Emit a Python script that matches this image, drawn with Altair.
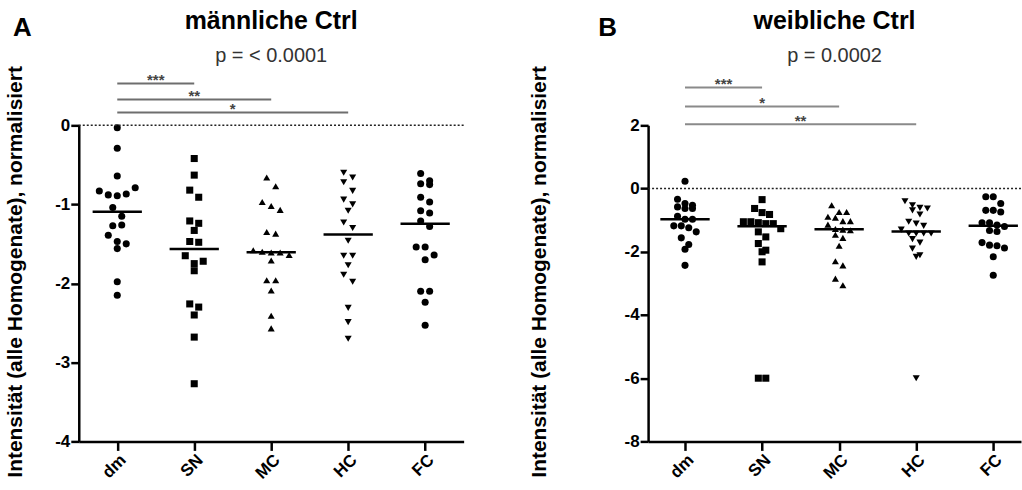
import altair as alt
import pandas as pd

FONT = "Liberation Sans"

groups = ["dm", "SN", "MC", "HC", "FC"]
shapes = ["circle", "square", "triangle-up", "triangle-down", "circle"]

# Panel A: männliche Ctrl
male_dm = [-0.03, -0.29, -0.64, -0.83, -0.88, -0.89, -0.87, -0.79, -1.04, -1.15,
           -1.27, -1.26, -1.39, -1.47, -1.50, -1.56, -1.98, -2.15]
male_SN = [-0.42, -0.63, -0.82, -0.91, -1.21, -1.24, -1.33, -1.47, -1.48, -1.65,
           -1.75, -1.72, -1.84, -2.26, -2.30, -2.40, -2.68, -3.27]
male_MC = [-0.66, -0.77, -0.97, -1.02, -1.07, -1.35, -1.37, -1.58, -1.60, -1.61,
           -1.61, -1.64, -1.71, -1.96, -1.96, -2.09, -2.41, -2.57]
male_HC = [-0.60, -0.66, -0.72, -0.83, -0.94, -1.00, -1.08, -1.23, -1.30, -1.46,
           -1.65, -1.65, -1.77, -1.89, -1.98, -2.31, -2.49, -2.70]
male_FC = [-0.61, -0.74, -0.75, -0.70, -0.91, -0.97, -1.08, -1.11, -1.21, -1.28,
           -1.54, -1.54, -1.64, -1.70, -2.10, -2.10, -2.24, -2.53]

# Panel B: weibliche Ctrl
female_dm = [0.23, -0.34, -0.47, -0.53, -0.58, -0.63, -0.63, -0.88, -0.97, -0.97,
             -1.18, -1.18, -1.24, -1.37, -1.56, -1.77, -1.92, -2.43]
female_SN = [-0.35, -0.63, -0.76, -0.82, -1.05, -1.05, -1.08, -1.11, -1.11, -1.27,
             -1.37, -1.53, -1.74, -1.95, -2.00, -2.32, -6.0, -6.0]
female_MC = [-0.53, -0.74, -0.74, -0.89, -0.92, -1.03, -1.03, -1.14, -1.28, -1.30,
             -1.32, -1.46, -1.56, -1.81, -2.30, -2.43, -2.85, -3.06]
female_HC = [-0.40, -0.53, -0.61, -0.63, -0.69, -0.82, -1.05, -1.11, -1.18, -1.30,
             -1.42, -1.42, -1.42, -1.42, -1.60, -1.71, -1.90, -2.11, -2.16, -6.0]
female_FC = [-0.26, -0.26, -0.47, -0.69, -0.69, -0.74, -1.08, -1.08, -1.15, -1.20,
             -1.33, -1.36, -1.71, -1.79, -1.81, -1.88, -2.16, -2.74]

# significance comparisons (dm vs. group index)
male_sig_to = [1, 2, 3]
male_sig_stars = ["***", "**", "*"]
female_sig_to = [1, 2, 3]
female_sig_stars = ["***", "*", "**"]

male_yticks = [0, -1, -2, -3, -4]
female_yticks = [2, 0, -2, -4, -6, -8]

YTITLE = "Intensität (alle Homogenate), normalisiert"
H = 317


def row_offsets(vals, ppu, d):
    n = len(vals)
    order = sorted(range(n), key=lambda i: -vals[i])
    offs = [0.0] * n
    rows, cur, start = [], [], None
    for i in order:
        ypx = -vals[i] * ppu
        if cur and ypx - start < d:
            cur.append(i)
        else:
            if cur:
                rows.append(cur)
            cur, start = [i], ypx
    if cur:
        rows.append(cur)
    for r in rows:
        r = sorted(r)
        m = len(r)
        for j, i in enumerate(r):
            offs[i] = (j - (m - 1) / 2) * d
    return offs


def panel(series, ymin, ymax, yticks, title, ptext, letter, sig_to, sig_stars,
          sig_px, W, xdom, d, titleX, bar_color, letter_x, title_offset):
    ppu = H / (ymax - ymin)
    step = W / (xdom[1] - xdom[0])
    recs = []
    for gi, vals in enumerate(series):
        for v, o in zip(vals, row_offsets(vals, ppu, d)):
            recs.append({"Gruppe": groups[gi], "gi": gi, "Wert": v,
                         "xpos": gi + o / step})
    df = pd.DataFrame(recs)

    xs = alt.Scale(domain=xdom, nice=False, zero=False)
    ys = alt.Scale(domain=[ymin, ymax], nice=False, zero=False)
    label_expr = "[" + ",".join("'%s'" % g for g in groups) + "][datum.value]"
    common = dict(domain=True, ticks=True, grid=False, domainColor="#000000",
                  tickColor="#000000", domainWidth=2.5, tickWidth=2.5,
                  domainOpacity=1, tickOpacity=1, labelColor="black",
                  labelFont=FONT, labelFontWeight="bold", labelFontSize=17,
                  labelPadding=1)
    xaxis = alt.Axis(values=list(range(5)), labelExpr=label_expr, title=None,
                     labelAngle=-45, labelAlign="right", labelBaseline="top",
                     tickSize=9, **common)
    yaxis = alt.Axis(values=yticks,
                     labelExpr="datum.value < 0 ? '-' + abs(datum.value) : '' + datum.value",
                     title=YTITLE, titleFont=FONT, titleFontWeight="bold",
                     titleColor="black", titleFontSize=21,
                     titleX=titleX, titleY=H / 2 - 12, titleBaseline="middle",
                     titleAlign="center", tickSize=8, **common)

    pts = alt.Chart(df).mark_point(filled=True, opacity=1, size=50,
                                   color="black").encode(
        x=alt.X("xpos:Q", scale=xs, axis=xaxis),
        y=alt.Y("Wert:Q", scale=ys, axis=yaxis),
        shape=alt.Shape("Gruppe:N", scale=alt.Scale(domain=groups, range=shapes),
                        legend=None))

    zero = alt.Chart(pd.DataFrame({"nulllinie": [0]})).mark_rule(
        strokeDash=[2, 2], strokeWidth=1.5, color="#222").encode(
        y=alt.Y("nulllinie:Q", scale=ys), x=alt.value(0), x2=alt.value(W))

    med = alt.Chart(df).transform_aggregate(
        med="median(Wert)", groupby=["gi"]).transform_calculate(
        x1="datum.gi - 0.32", x2="datum.gi + 0.32").mark_rule(
        color="black", strokeWidth=2.5).encode(
        x=alt.X("x1:Q", scale=xs), x2="x2:Q", y=alt.Y("med:Q", scale=ys))

    sig = pd.DataFrame({"von": [0] * len(sig_to), "bis": sig_to,
                        "Sterne": sig_stars,
                        "yy": [ymax + p / ppu for p in sig_px]})
    sig["mitte"] = (sig["von"] + sig["bis"]) / 2
    bars = alt.Chart(sig).mark_rule(color=bar_color, strokeWidth=2).encode(
        x=alt.X("von:Q", scale=xs), x2="bis:Q", y=alt.Y("yy:Q", scale=ys))
    stars = alt.Chart(sig).mark_text(font=FONT, fontSize=15, fontWeight="bold",
                                     color="#444", baseline="alphabetic",
                                     dy=2).encode(
        x=alt.X("mitte:Q", scale=xs), y=alt.Y("yy:Q", scale=ys),
        text="Sterne:N")

    lab = alt.Chart(pd.DataFrame({"Panel": [letter]})).mark_text(
        font=FONT, fontSize=26, fontWeight="bold", color="black",
        align="left", baseline="alphabetic").encode(
        text="Panel:N", x=alt.value(letter_x), y=alt.value(-90))

    return alt.layer(pts, zero, med, bars, stars, lab).properties(
        width=W, height=H,
        title=alt.TitleParams(title, subtitle=ptext, font=FONT, fontSize=25,
                              fontWeight="bold", color="black",
                              subtitleFont=FONT, subtitleFontSize=20,
                              subtitleColor="#333", subtitlePadding=12,
                              anchor="middle", frame="group",
                              offset=title_offset))


left = panel([male_dm, male_SN, male_MC, male_HC, male_FC], -4, 0, male_yticks,
             "männliche Ctrl", "p = < 0.0001", "A", male_sig_to, male_sig_stars,
             [42, 26, 13], 386, [-0.5, 4.5], 9, -63, "#6e6e6e", -66, -51)
right = panel([female_dm, female_SN, female_MC, female_HC, female_FC], -8, 2,
              female_yticks, "weibliche Ctrl", "p = 0.0002", "B", female_sig_to,
              female_sig_stars, [38, 19, 1], 374, [-0.479, 4.36], 7.5, -109,
              "#8a8a8a", -50, -51)

chart = alt.hconcat(left, right, spacing=63).properties(
    padding={"left": 4, "top": 8, "right": 0, "bottom": 0},
    background="white"
).configure_view(stroke=None)

chart.save("out.html", embed_options={"renderer": "svg", "actions": False})
